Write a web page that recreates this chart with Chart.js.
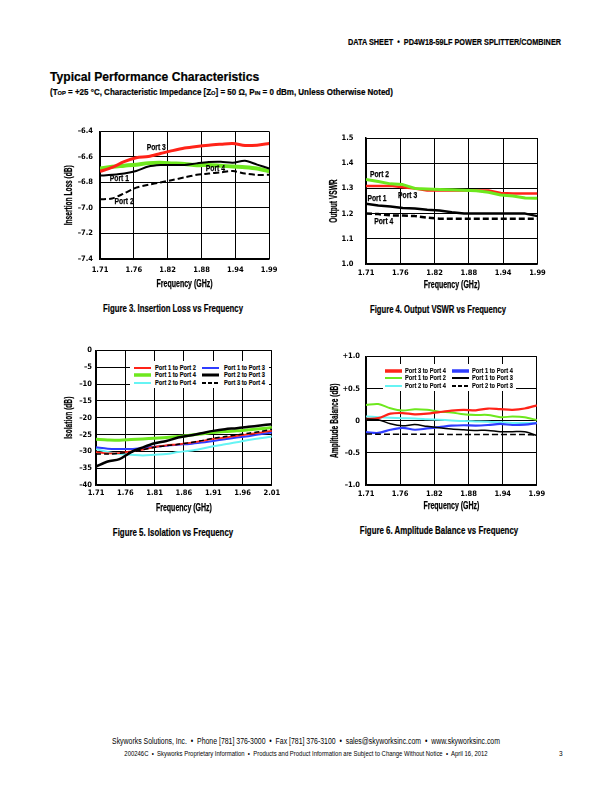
<!DOCTYPE html>
<html><head><meta charset="utf-8">
<script src="https://cdn.jsdelivr.net/npm/chart.js@4.4.1/dist/chart.umd.min.js"></script>
<style>
html,body{margin:0;padding:0;background:#fff;}
body{width:612px;height:792px;position:relative;overflow:hidden;font-family:'Liberation Sans',Arial,sans-serif;color:#000;}
.t{position:absolute;white-space:nowrap;line-height:1;}
.b{font-weight:bold;-webkit-text-stroke:0.2px #000;}
.l{transform-origin:left center;}
.c{transform-origin:center center;}
.sc{font-size:72%;}
canvas{position:absolute;}
.lg{position:absolute;background:#fff;z-index:2;}
.lg span{position:absolute;white-space:nowrap;font-weight:bold;font-size:7.5px;line-height:1;transform-origin:left center;-webkit-text-stroke:0.15px #000;}
.lg svg{position:absolute;}
</style></head><body>
<div class="t b l" data-w="213" data-tr="translateY(-50%)" style="left:348px;top:42px;font-size:9px;">DATA SHEET &nbsp;•&nbsp; PD4W18-59LF POWER SPLITTER/COMBINER</div>
<div class="t b l" data-w="209" data-tr="translateY(-50%)" style="left:50px;top:77px;font-size:12px;">Typical Performance Characteristics</div>
<div class="t b l" data-w="343" data-tr="translateY(-50%)" style="left:50px;top:92px;font-size:8.5px;">(T<span class="sc">OP</span> = +25 °C, Characteristic Impedance [Z<span class="sc">O</span>] = 50 Ω, P<span class="sc">IN</span> = 0 dBm, Unless Otherwise Noted)</div>
<div class="t b c" data-w="140" data-tr="translate(-50%,-50%)" style="left:172.7px;top:307.7px;font-size:10.5px;">Figure 3. Insertion Loss vs Frequency</div>
<div class="t b c" data-w="136" data-tr="translate(-50%,-50%)" style="left:438px;top:309.3px;font-size:10.5px;">Figure 4. Output VSWR vs Frequency</div>
<div class="t b c" data-w="120" data-tr="translate(-50%,-50%)" style="left:173px;top:531.7px;font-size:10.5px;">Figure 5. Isolation vs Frequency</div>
<div class="t b c" data-w="158" data-tr="translate(-50%,-50%)" style="left:439px;top:530.3px;font-size:10.5px;">Figure 6. Amplitude Balance vs Frequency</div>
<div class="t c" data-w="388" data-tr="translate(-50%,-50%)" style="left:306px;top:741px;font-size:8.5px;">Skyworks Solutions, Inc. &nbsp;•&nbsp; Phone [781] 376-3000 &nbsp;•&nbsp; Fax [781] 376-3100 &nbsp;•&nbsp; sales@skyworksinc.com &nbsp;•&nbsp; www.skyworksinc.com</div>
<div class="t c" data-w="363" data-tr="translate(-50%,-50%)" style="left:305.5px;top:754px;font-size:6.3px;">200246C &nbsp;•&nbsp; Skyworks Proprietary Information &nbsp;•&nbsp; Products and Product Information are Subject to Change Without Notice &nbsp;•&nbsp; April 16, 2012</div>
<div class="t" style="left:559px;top:754px;transform:translateY(-50%);font-size:6.5px;">3</div>
<script>
// ---------------- DATA ----------------
// Figure 3: Insertion Loss (dB)
const freqIL = [1.71,1.73,1.75,1.77,1.79,1.81,1.83,1.85,1.87,1.89,1.91,1.93,1.95,1.97,1.99];
const ilPort3 = [-6.713,-6.682,-6.637,-6.606,-6.596,-6.573,-6.550,-6.530,-6.517,-6.507,-6.500,-6.494,-6.510,-6.507,-6.494];
const ilPort1 = [-6.746,-6.740,-6.730,-6.710,-6.675,-6.663,-6.662,-6.662,-6.650,-6.640,-6.638,-6.645,-6.630,-6.660,-6.690];
const ilPort4 = [-6.690,-6.676,-6.668,-6.660,-6.648,-6.645,-6.650,-6.655,-6.665,-6.662,-6.668,-6.675,-6.680,-6.690,-6.712];
const ilPort2 = [-6.932,-6.925,-6.885,-6.840,-6.818,-6.800,-6.780,-6.760,-6.740,-6.730,-6.720,-6.710,-6.730,-6.740,-6.740];
const ilYTicks = [-7.4,-7.2,-7.0,-6.8,-6.6,-6.4];
const ilXLabels = ['1.71','1.76','1.82','1.88','1.94','1.99'];

// Figure 4: Output VSWR
const freqVS = [1.71,1.73,1.75,1.77,1.79,1.81,1.83,1.85,1.87,1.89,1.91,1.93,1.95,1.97,1.99];
const vsPort2 = [1.335,1.327,1.318,1.315,1.300,1.298,1.296,1.295,1.293,1.291,1.285,1.274,1.270,1.262,1.261];
const vsPort3 = [1.310,1.310,1.310,1.305,1.300,1.292,1.292,1.292,1.292,1.292,1.292,1.282,1.280,1.280,1.280];
const vsPort1 = [1.239,1.232,1.228,1.222,1.220,1.215,1.212,1.205,1.200,1.200,1.200,1.200,1.200,1.200,1.190];
const vsPort4 = [1.200,1.198,1.193,1.192,1.190,1.184,1.180,1.180,1.180,1.180,1.180,1.180,1.180,1.180,1.180];
const vsYTicks = [1.0,1.1,1.2,1.3,1.4,1.5];
const vsXLabels = ['1.71','1.76','1.82','1.88','1.94','1.99'];

// Figure 5: Isolation (dB)
const freqISO = [1.71,1.73,1.75,1.77,1.79,1.81,1.83,1.85,1.87,1.89,1.91,1.93,1.95,1.97,1.99,2.01];
const isoP1P2 = [-30.2,-30.6,-30.5,-30.0,-29.5,-28.7,-28.2,-27.9,-27.5,-26.9,-26.3,-25.9,-25.4,-24.9,-24.4,-23.9];
const isoP1P4 = [-26.4,-26.6,-26.7,-26.5,-26.3,-26.1,-25.9,-25.6,-25.2,-24.8,-24.4,-24.1,-23.9,-23.6,-23.3,-22.9];
const isoP2P4 = [-29.3,-30.2,-30.8,-31.0,-31.2,-31.0,-30.8,-30.2,-29.8,-29.2,-28.5,-27.9,-27.3,-26.6,-26.1,-25.6];
const isoP1P3 = [-28.8,-29.2,-29.3,-29.3,-29.0,-28.6,-28.3,-28.0,-27.8,-27.4,-26.9,-26.4,-25.9,-25.5,-24.9,-24.4];
const isoP2P3 = [-34.5,-33.0,-32.3,-30.2,-28.8,-27.6,-26.9,-25.9,-25.3,-24.6,-23.9,-23.4,-23.1,-22.7,-22.3,-21.9];
const isoP3P4 = [-30.8,-30.8,-30.6,-30.2,-29.5,-28.8,-28.3,-27.9,-27.4,-26.8,-26.1,-25.6,-25.1,-24.6,-24.1,-23.4];
const isoYTicks = [-40,-35,-30,-25,-20,-15,-10,-5,0];
const isoXLabels = ['1.71','1.76','1.81','1.86','1.91','1.96','2.01'];

// Figure 6: Amplitude Balance (dB)
const freqAB = [1.71,1.73,1.75,1.77,1.79,1.81,1.83,1.85,1.87,1.89,1.91,1.93,1.95,1.97,1.99];
const abP3P4 = [0.030,0.040,0.110,0.120,0.100,0.110,0.135,0.158,0.170,0.163,0.190,0.180,0.170,0.190,0.240];
const abP1P2 = [0.245,0.260,0.194,0.158,0.180,0.170,0.140,0.130,0.100,0.090,0.090,0.056,0.065,0.056,0.010];
const abP2P4 = [0.066,0.056,0.046,0.040,0.035,0.025,0.015,0.005,-0.005,-0.010,-0.015,-0.025,-0.036,-0.036,-0.036];
const abP1P4 = [-0.178,-0.190,-0.140,-0.110,-0.140,-0.120,-0.100,-0.077,-0.070,-0.075,-0.066,-0.050,-0.066,-0.060,-0.036];
const abP1P3 = [0.026,0.015,-0.046,-0.077,-0.060,-0.087,-0.110,-0.128,-0.140,-0.150,-0.150,-0.170,-0.170,-0.170,-0.230];
const abP2P3 = [-0.205,-0.210,-0.210,-0.210,-0.210,-0.210,-0.210,-0.215,-0.215,-0.215,-0.215,-0.215,-0.215,-0.215,-0.225];
const abYTicks = [-1.0,-0.5,0,0.5,1.0];
const abYLabels = ['\u20131.0','\u20130.5','0','+0.5','+1.0'];
const abXLabels = ['1.71','1.76','1.82','1.88','1.94','1.99'];

// ---------------- STYLE / LAYOUT ----------------
const TICKFONT = "'DejaVu Sans Condensed','DejaVu Sans',sans-serif";
const TXTFONT = "'Liberation Sans',Arial,sans-serif";
const RED='#ff2318', GREEN='#6ee81e', CYAN='#66f4f4', BLUE='#2f3dff', BLACK='#000000';
const dash = v => v.toFixed(1).replace('-', '\u2013');

// fit HTML texts to their measured widths (condensed look)
document.querySelectorAll('[data-w]').forEach(el => {
  const k = parseFloat(el.dataset.w) / el.offsetWidth;
  el.style.transform = (el.dataset.tr || '') + ' scaleX(' + k + ')';
});

function condText(ctx, text, x, y, size, k, rot){
  ctx.save();
  ctx.font = 'bold ' + size + 'px ' + TXTFONT;
  ctx.fillStyle = '#000'; ctx.strokeStyle = '#000'; ctx.lineWidth = 0.25;
  ctx.textAlign = 'center'; ctx.textBaseline = 'middle';
  ctx.translate(x, y);
  if (rot) ctx.rotate(rot);
  ctx.scale(k, 1);
  ctx.fillText(text, 0, 0);
  ctx.strokeText(text, 0, 0);
  ctx.restore();
}

function textPlugin(cfg, cl, ct){
  return {id:'texts', afterDraw(chart){
    const {ctx, chartArea: a, scales:{x, y}} = chart;
    condText(ctx, 'Frequency (GHz)', (a.left + a.right) / 2, cfg.layout.xTitleY - ct, 10, 0.7, 0);
    condText(ctx, cfg.yTitle, cfg.layout.yTitleX - cl, (a.top + a.bottom) / 2, 10, 0.66, -Math.PI / 2);
    (cfg.labels || []).forEach(it =>
      condText(ctx, it.text, x.getPixelForValue(it.x), y.getPixelForValue(it.y), 9, 0.75, 0));
  }};
}

function buildChart(cfg){
  const lay = cfg.layout;
  const cl = Math.round(lay.yTitleX - 10);
  const ct = lay.T - 8;
  const W = lay.R - cl + 12;
  const H = Math.round(lay.xTitleY - ct + 10);
  const cv = document.createElement('canvas');
  cv.width = W; cv.height = H;
  cv.style.left = cl + 'px'; cv.style.top = ct + 'px';
  cv.style.width = W + 'px'; cv.style.height = H + 'px';
  document.body.appendChild(cv);
  const tickFont = {family: TICKFONT, size: 7.5, weight: 'bold', lineHeight: 1.2};
  const yW = lay.L - cl;
  const xH = H - (lay.B - ct);
  const xTickPad = lay.xTickY - lay.B - 4.5;
  const n = cfg.xLabels.length;
  const xVals = cfg.xLabels.map((_, i) => cfg.xMin + i * (cfg.xMax - cfg.xMin) / (n - 1));
  return new Chart(cv, {
    type: 'line',
    data: {datasets: cfg.series.map(s => ({
      label: s.label,
      data: cfg.freq.map((f, i) => ({x: f, y: s.values[i]})),
      borderColor: s.color, borderWidth: s.width, borderDash: s.dash || [],
      pointRadius: 0, fill: false, tension: cfg.tension, order: s.z,
      borderCapStyle: 'butt', borderJoinStyle: 'round'
    }))},
    options: {
      responsive: false, animation: false, devicePixelRatio: 1,
      layout: {padding: {left: 0, top: 8, right: 12, bottom: 0}},
      plugins: {legend: {display: false}, tooltip: {enabled: false}},
      scales: {
        x: {
          type: 'linear', min: cfg.xMin, max: cfg.xMax,
          afterBuildTicks: s => { s.ticks = xVals.map(v => ({value: v})); },
          afterFit: s => { s.height = xH; },
          ticks: {font: tickFont, color: '#000', padding: xTickPad, maxRotation: 0, autoSkip: false,
                  callback: (v, i) => cfg.xLabels[i]},
          grid: {color: '#000', lineWidth: 1, drawTicks: false},
          border: {display: true, color: '#000', width: 1.5},
          title: {display: false}
        },
        y: {
          type: 'linear', min: cfg.yTicks[0], max: cfg.yTicks[cfg.yTicks.length - 1],
          afterBuildTicks: s => { s.ticks = cfg.yTicks.map(v => ({value: v})); },
          afterFit: s => { s.width = yW; },
          ticks: {font: tickFont, color: '#000', padding: lay.yTickGap, autoSkip: false,
                  callback: (v, i) => cfg.yLabels[i]},
          grid: {color: '#000', lineWidth: 1, drawTicks: false},
          border: {display: true, color: '#000', width: 1.5},
          title: {display: false}
        }
      }
    },
    plugins: [textPlugin(cfg, cl, ct)]
  });
}

function buildLegend(series, box){
  const d = document.createElement('div');
  d.className = 'lg';
  d.style.left = box.x + 'px'; d.style.top = box.y + 'px';
  d.style.width = box.w + 'px'; d.style.height = box.h + 'px';
  document.body.appendChild(d);
  series.forEach((s, k) => {
    const c = Math.floor(k / 3), r = k % 3;
    const lx = box.lineX[c] - box.x, ly = box.rowY[r] - box.y;
    const sv = document.createElementNS('http://www.w3.org/2000/svg', 'svg');
    sv.setAttribute('width', 17); sv.setAttribute('height', 8);
    sv.style.left = lx + 'px'; sv.style.top = (ly - 4) + 'px';
    const ln = document.createElementNS('http://www.w3.org/2000/svg', 'line');
    ln.setAttribute('x1', 0); ln.setAttribute('x2', 17); ln.setAttribute('y1', 4); ln.setAttribute('y2', 4);
    ln.setAttribute('stroke', s.color); ln.setAttribute('stroke-width', s.legendWidth || s.width);
    if (s.dash) ln.setAttribute('stroke-dasharray', '4 2');
    sv.appendChild(ln); d.appendChild(sv);
    const sp = document.createElement('span');
    sp.textContent = s.label;
    sp.style.left = (box.textX[c] - box.x) + 'px'; sp.style.top = ly + 'px';
    d.appendChild(sp);
    const kx = box.textW / sp.offsetWidth;
    sp.style.transform = 'translateY(-50%) scaleX(' + kx + ')';
  });
}

// Figure 3
buildChart({
  layout: {L: 100, R: 272, T: 128, B: 259, yTitleX: 69.3, xTitleY: 284, xTickY: 270, yTickGap: 7},
  freq: freqIL, xMin: 1.71, xMax: 1.99, xLabels: ilXLabels,
  yTicks: ilYTicks, yLabels: ilYTicks.map(dash), yTitle: 'Insertion Loss (dB)', tension: 0.3,
  series: [
    {label: 'Port 3', values: ilPort3, color: RED, width: 3, z: 0},
    {label: 'Port 1', values: ilPort1, color: BLACK, width: 2, z: 1},
    {label: 'Port 4', values: ilPort4, color: GREEN, width: 4, z: 2},
    {label: 'Port 2', values: ilPort2, color: BLACK, width: 2, dash: [6, 3], z: 3}
  ],
  labels: [
    {text: 'Port 3', x: 1.803, y: -6.527},
    {text: 'Port 1', x: 1.742, y: -6.772},
    {text: 'Port 4', x: 1.901, y: -6.688},
    {text: 'Port 2', x: 1.750, y: -6.947}
  ]
});

// Figure 4
buildChart({
  layout: {L: 366, R: 538, T: 129, B: 264, yTitleX: 334.5, xTitleY: 285, xTickY: 272.7, yTickGap: 12.5},
  freq: freqVS, xMin: 1.71, xMax: 1.99, xLabels: vsXLabels,
  yTicks: vsYTicks, yLabels: vsYTicks.map(v => v.toFixed(1)), yTitle: 'Output VSWR', tension: 0,
  series: [
    {label: 'Port 2', values: vsPort2, color: GREEN, width: 3, z: 0},
    {label: 'Port 3', values: vsPort3, color: RED, width: 2.5, z: 1},
    {label: 'Port 1', values: vsPort1, color: BLACK, width: 2.5, z: 2},
    {label: 'Port 4', values: vsPort4, color: BLACK, width: 2.5, dash: [6, 3], z: 3}
  ],
  labels: [
    {text: 'Port 2', x: 1.732, y: 1.356},
    {text: 'Port 3', x: 1.778, y: 1.271},
    {text: 'Port 1', x: 1.728, y: 1.260},
    {text: 'Port 4', x: 1.739, y: 1.167}
  ]
});

// Figure 5
const isoSeries = [
  {label: 'Port 1 to Port 2', values: isoP1P2, color: RED, width: 1.8, legendWidth: 2, z: 2},
  {label: 'Port 1 to Port 4', values: isoP1P4, color: GREEN, width: 3, legendWidth: 3.5, z: 5},
  {label: 'Port 2 to Port 4', values: isoP2P4, color: CYAN, width: 2, legendWidth: 2, z: 4},
  {label: 'Port 1 to Port 3', values: isoP1P3, color: BLUE, width: 2, legendWidth: 2, z: 3},
  {label: 'Port 2 to Port 3', values: isoP2P3, color: BLACK, width: 2.5, legendWidth: 3, z: 1},
  {label: 'Port 3 to Port 4', values: isoP3P4, color: BLACK, width: 1.5, legendWidth: 1.8, dash: [5, 3], z: 0}
];
buildChart({
  layout: {L: 96, R: 272, T: 350, B: 485, yTitleX: 69.3, xTitleY: 508.3, xTickY: 493.3, yTickGap: 4},
  freq: freqISO, xMin: 1.71, xMax: 2.01, xLabels: isoXLabels,
  yTicks: isoYTicks, yLabels: isoYTicks.map(v => String(v).replace('-', '\u2013')), yTitle: 'Isolation (dB)', tension: 0.3,
  series: isoSeries
});
buildLegend(isoSeries, {x: 130, y: 361, w: 139, h: 27, lineX: [134, 202], textX: [155, 224], textW: 41, rowY: [367.5, 375, 382.5]});

// Figure 6
const abSeries = [
  {label: 'Port 3 to Port 4', values: abP3P4, color: RED, width: 2.2, legendWidth: 3.5, z: 3},
  {label: 'Port 1 to Port 2', values: abP1P2, color: GREEN, width: 2, legendWidth: 2, z: 5},
  {label: 'Port 2 to Port 4', values: abP2P4, color: CYAN, width: 2, legendWidth: 2, z: 4},
  {label: 'Port 1 to Port 4', values: abP1P4, color: BLUE, width: 2.2, legendWidth: 3.5, z: 2},
  {label: 'Port 1 to Port 3', values: abP1P3, color: BLACK, width: 1.5, legendWidth: 2, z: 0},
  {label: 'Port 2 to Port 3', values: abP2P3, color: BLACK, width: 1.5, legendWidth: 2, dash: [6, 3], z: 1}
];
buildChart({
  layout: {L: 366, R: 538, T: 354, B: 485, yTitleX: 335, xTitleY: 506.7, xTickY: 494.3, yTickGap: 6},
  freq: freqAB, xMin: 1.71, xMax: 1.99, xLabels: abXLabels,
  yTicks: abYTicks, yLabels: abYLabels, yTitle: 'Amplitude Balance (dB)', tension: 0.3,
  series: abSeries
});
buildLegend(abSeries, {x: 383, y: 364, w: 133, h: 27, lineX: [385, 451.5], textX: [405, 471.7], textW: 41, rowY: [370.7, 378, 385.7]});
</script>
</body></html>
